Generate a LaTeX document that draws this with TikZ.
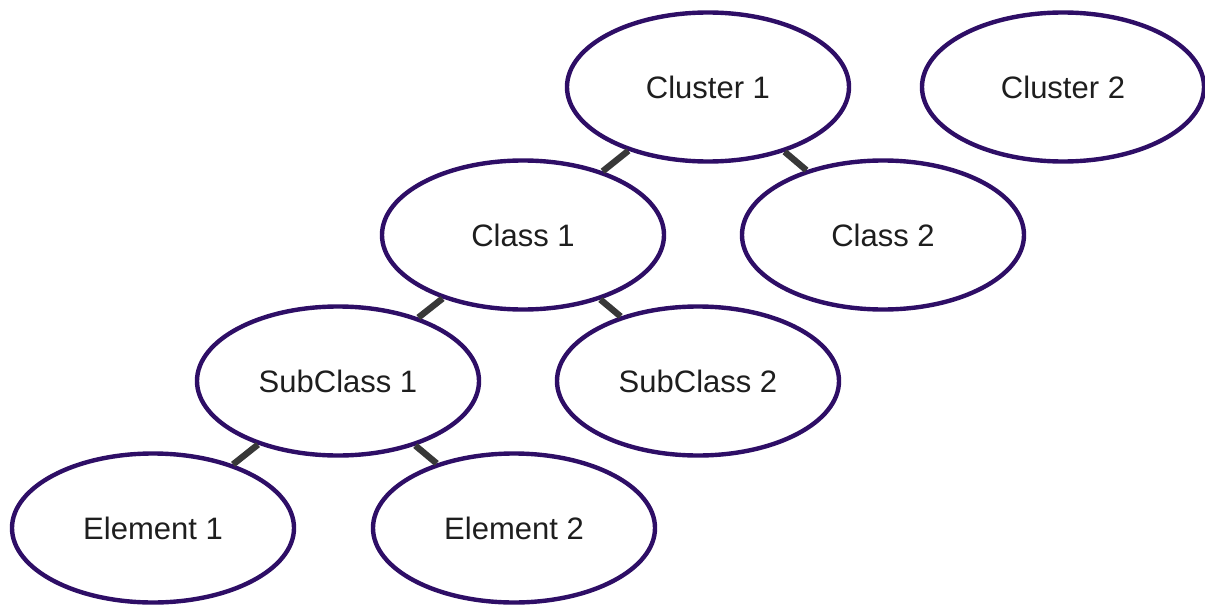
\documentclass[tikz,border=0pt]{standalone}
\usepackage{fontspec}
\setmainfont{Liberation Sans}
\usetikzlibrary{shapes.geometric}
\definecolor{BubbleClr}{RGB}{46,14,102}
\definecolor{LinkClr}{RGB}{56,56,56}
\definecolor{TextClr}{RGB}{30,30,30}

\begin{document}
\begin{tikzpicture}[x=0.5pt,y=-0.5pt,
  bubble/.style={ellipse,draw=BubbleClr,line width=2.2pt,fill=white,
    text=TextClr,minimum width=141pt,minimum height=74.5pt,inner sep=0pt,
    font=\fontsize{15.5}{18}\selectfont},
  link/.style={draw=LinkClr,line width=3.2pt}]
\useasboundingbox (0,0) rectangle (1205,605);

\node[bubble] (Cl1) at (708,87) {Cluster 1};
\node[bubble] (Cl2) at (1063,87) {Cluster 2};
\node[bubble] (C1) at (523,235) {Class 1};
\node[bubble] (C2) at (883,235) {Class 2};
\node[bubble] (S1) at (338,381) {SubClass 1};
\node[bubble] (S2) at (698,381) {SubClass 2};
\node[bubble] (E1) at (153,528) {Element 1};
\node[bubble] (E2) at (514,528) {Element 2};

\draw[link] (Cl1) -- (C1);
\draw[link] (Cl1) -- (C2);
\draw[link] (C1) -- (S1);
\draw[link] (C1) -- (S2);
\draw[link] (S1) -- (E1);
\draw[link] (S1) -- (E2);

\end{tikzpicture}
\end{document}
